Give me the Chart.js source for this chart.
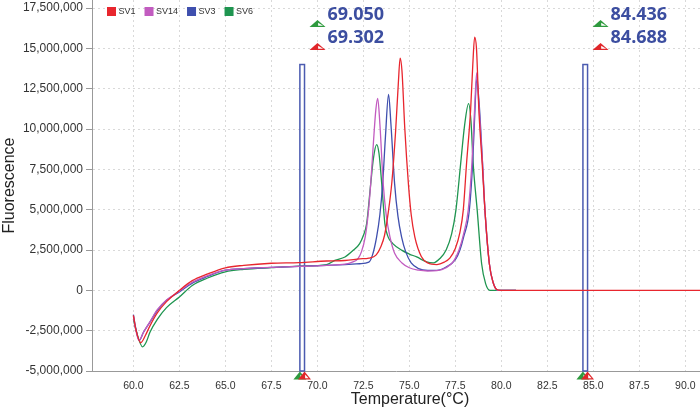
<!DOCTYPE html>
<html><head><meta charset="utf-8">
<script src="https://cdn.jsdelivr.net/npm/chart.js@4.4.1/dist/chart.umd.min.js"></script>
<style>html,body{margin:0;padding:0;background:#fff}#wrap{width:700px;height:409px}</style>
</head><body><div id="wrap"><canvas id="c" width="700" height="409"></canvas></div>
<script>
const seriesNames = ['SV1', 'SV14', 'SV3', 'SV6'];
const seriesColors = ['#e8262e', '#c25cc0', '#3f4fae', '#1f9550'];

// Temperature (°C) and fluorescence (millions)
const sv1Temp = [60.0,60.15,60.4,60.65,60.9,61.3,61.8,62.5,63.2,64.0,65.0,66.0,67.5,69.0,70.5,71.5,72.3,72.8,73.2,73.45,73.65,73.85,74.05,74.25,74.4,74.5,74.6,74.75,74.95,75.1,75.3,75.65,76.0,76.5,76.9,77.2,77.5,77.75,77.93,78.11,78.33,78.45,78.55,78.65,78.78,78.96,79.11,79.35,79.55,79.75,80.0,90.8];
const sv1Fluor = [-1.55,-2.5,-3.25,-2.8,-2.2,-1.4,-0.7,0.0,0.6,1.0,1.4,1.55,1.68,1.72,1.82,1.85,1.95,2.0,2.2,2.7,3.4,4.8,6.7,9.8,12.8,14.4,13.6,10.1,6.6,4.7,3.3,2.1,1.7,1.6,1.75,2.0,2.6,3.6,4.96,7.86,11.17,14.0,15.7,15.0,11.17,7.86,4.96,1.65,0.5,0.05,0,0];

const sv14Temp = [60.0,60.12,60.3,60.55,60.9,61.3,61.8,62.5,63.2,64.0,65.0,66.0,67.5,69.0,70.5,71.5,71.9,72.2,72.4,72.6,72.75,72.9,73.05,73.18,73.28,73.4,73.58,73.75,73.95,74.2,74.6,75.0,75.5,76.0,76.5,77.0,77.4,77.7,77.95,78.2,78.4,78.55,78.66,78.78,78.98,79.11,79.35,79.55,79.83,80.8];
const sv14Fluor = [-1.6,-2.4,-3.1,-2.6,-1.95,-1.2,-0.6,-0.05,0.5,0.9,1.25,1.35,1.42,1.48,1.55,1.62,1.75,1.95,2.4,3.3,4.6,6.6,9.2,11.2,11.9,10.3,6.6,4.6,3.3,2.3,1.7,1.4,1.25,1.2,1.22,1.4,1.8,2.5,3.5,4.96,7.86,11.3,13.48,11.5,7.86,4.96,1.65,0.5,0.0,0.0];

const sv3Temp = [60.0,60.12,60.32,60.55,60.9,61.3,61.8,62.5,63.2,64.0,65.0,66.0,67.5,69.0,70.5,71.5,72.3,72.8,73.0,73.22,73.4,73.55,73.7,73.87,74.0,74.2,74.38,74.58,74.8,75.1,75.5,76.0,76.5,77.0,77.5,77.75,77.95,78.26,78.44,78.56,78.66,78.8,78.98,79.11,79.35,79.55,79.83,80.8];
const sv3Fluor = [-1.5,-2.3,-3.1,-2.6,-1.97,-1.25,-0.62,-0.1,0.45,0.85,1.25,1.35,1.42,1.49,1.55,1.6,1.65,1.75,2.2,3.3,4.7,6.6,9.5,12.14,10.3,6.6,4.6,3.3,2.4,1.7,1.35,1.24,1.24,1.45,1.9,2.5,3.3,4.96,7.86,11.0,13.1,11.5,7.86,4.96,1.65,0.5,0.0,0.0];

const sv6Temp = [60.0,60.15,60.5,60.7,60.9,61.3,61.8,62.5,63.2,64.0,65.0,66.0,67.5,69.0,70.5,70.95,71.5,71.95,72.3,72.5,72.68,72.9,73.05,73.22,73.35,73.5,73.67,73.85,74.1,74.6,75.0,75.4,75.94,76.3,76.66,77.0,77.3,77.53,77.79,78.0,78.22,78.35,78.47,78.69,78.93,79.15,79.38,80.8];
const sv6Fluor = [-1.8,-2.5,-3.5,-3.2,-2.6,-1.8,-1.07,-0.41,0.3,0.75,1.15,1.3,1.41,1.5,1.6,1.86,2.07,2.48,2.9,3.4,4.14,6.6,8.2,9.04,8.5,6.6,4.14,3.3,2.9,2.48,2.25,2.07,1.76,1.7,1.97,2.5,3.5,4.96,7.86,10.2,11.58,10.5,7.86,4.96,1.65,0.4,0.0,0.0];

// Melt markers (°C) and marker bar height (millions)
const markerGreen = [69.050, 84.436];
const markerRed = [69.302, 84.688];
const markerTop = 14.0;

// Axes (y in millions; labels shown in full units)
const xMin = 57.75, xMax = 90.8, xStep = 2.5;
const yMin = -5.0, yMax = 18.0, yStep = 2.5;

const temps = [sv1Temp, sv14Temp, sv3Temp, sv6Temp];
const fluors = [sv1Fluor, sv14Fluor, sv3Fluor, sv6Fluor];
const datasets = seriesNames.map((n, k) => ({
  label: n,
  data: temps[k].map((t, i) => ({x: t, y: fluors[k][i]})),
  borderColor: seriesColors[k],
  borderWidth: 1.3,
  pointRadius: 0,
  fill: false,
  cubicInterpolationMode: 'monotone'
}));

function tri(ctx, cx, top, w, h, color) {
  ctx.beginPath();
  ctx.moveTo(cx, top); ctx.lineTo(cx + w / 2, top + h); ctx.lineTo(cx - w / 2, top + h); ctx.closePath();
  ctx.fillStyle = color; ctx.fill();
  ctx.beginPath();
  ctx.moveTo(cx + 0.6, top + h * 0.38); ctx.lineTo(cx + w / 2 - 2.4, top + h - 1.3); ctx.lineTo(cx + 0.6, top + h - 1.3); ctx.closePath();
  ctx.fillStyle = '#fff'; ctx.fill();
}

const overlay = {
  id: 'overlay',
  beforeDatasetsDraw(chart) {
    const {ctx, scales: {x, y}, chartArea} = chart;
    ctx.save();
    ctx.strokeStyle = '#4b5bb0'; ctx.lineWidth = 1.5;
    for (let i = 0; i < markerGreen.length; i++) {
      const x1 = x.getPixelForValue(markerGreen[i]), x2 = x.getPixelForValue(markerRed[i]);
      const yt = y.getPixelForValue(markerTop), yb = chartArea.bottom;
      ctx.strokeRect(x1, yt, x2 - x1, yb - yt);
    }
    ctx.restore();
  },
  afterDraw(chart) {
    const {ctx, scales: {x, y}, chartArea} = chart;
    ctx.save();
    // legend
    ctx.font = '9px "Liberation Sans Narrow", "Liberation Sans", Arial, sans-serif';
    ctx.textBaseline = 'middle';
    let lx = chartArea.left + 15;
    const ly = chartArea.top + 7;
    seriesNames.forEach((n, k) => {
      ctx.fillStyle = seriesColors[k];
      ctx.fillRect(lx, ly, 9, 9);
      ctx.fillStyle = '#333';
      ctx.fillText(n, lx + 11.5, ly + 5);
      lx += 11.5 + ctx.measureText(n).width + 9;
    });
    // markers
    ctx.font = 'bold 18px "Open Sans", "Liberation Sans", sans-serif';
    ctx.textBaseline = 'alphabetic';
    for (let i = 0; i < markerGreen.length; i++) {
      const pg = x.getPixelForValue(markerGreen[i]);
      const pr = x.getPixelForValue(markerRed[i]);
      const cx = pr + 13;
      tri(ctx, cx, chartArea.top + 20, 16, 7, '#2e9a3e');
      tri(ctx, cx, chartArea.top + 43, 16, 7, '#e0262a');
      ctx.fillStyle = '#3c4ea0';
      ctx.fillText(markerGreen[i].toFixed(3), cx + 10, chartArea.top + 20);
      ctx.fillText(markerRed[i].toFixed(3), cx + 10, chartArea.top + 43);
      tri(ctx, pg, chartArea.bottom + 0.5, 13, 8, '#2e9a3e');
      tri(ctx, pr, chartArea.bottom + 0.5, 13, 8, '#e0262a');
    }
    // x title
    ctx.font = '16px "Liberation Sans", Arial, sans-serif';
    ctx.fillStyle = '#222';
    ctx.textAlign = 'center';
    ctx.textBaseline = 'middle';
    ctx.fillText('Temperature(°C)', (chartArea.left + chartArea.right) / 2 + 14, 400);
    ctx.restore();
  }
};

new Chart(document.getElementById('c'), {
  type: 'line',
  data: {datasets},
  options: {
    responsive: false,
    animation: false,
    devicePixelRatio: 1,
    layout: {padding: 0},
    plugins: {legend: {display: false}, tooltip: {enabled: false}},
    scales: {
      x: {
        type: 'linear', min: xMin, max: xMax,
        afterFit: s => { s.height = 38; s.paddingLeft = 0; s.paddingRight = 0; },
        ticks: {
          stepSize: xStep, includeBounds: false, autoSkip: false, maxRotation: 0,
          callback: v => Number(v).toFixed(1),
          font: {family: '"Liberation Sans Narrow", "Liberation Sans", Arial, sans-serif', size: 10.5},
          color: '#333', padding: 9
        },
        grid: {color: '#d9d9d9', drawTicks: false},
        border: {color: '#999', width: 1, dash: [2, 3]}
      },
      y: {
        type: 'linear', min: yMin, max: yMax,
        afterFit: s => { s.width = 92; s.paddingTop = 0; s.paddingBottom = 0; },
        ticks: {
          stepSize: yStep, includeBounds: false,
          callback: v => Math.round(Number(v) * 1e6).toLocaleString('en-US'),
          font: {family: '"Liberation Sans", Arial, sans-serif', size: 12},
          color: '#333', padding: 3
        },
        grid: {color: '#d9d9d9', tickLength: 6, tickColor: '#999'},
        border: {color: '#999', width: 1, dash: [2, 3]},
        title: {display: true, text: 'Fluorescence', color: '#222', padding: 0,
          font: {family: '"Liberation Sans", Arial, sans-serif', size: 16}}
      }
    }
  },
  plugins: [overlay]
});
</script>
</body></html>
